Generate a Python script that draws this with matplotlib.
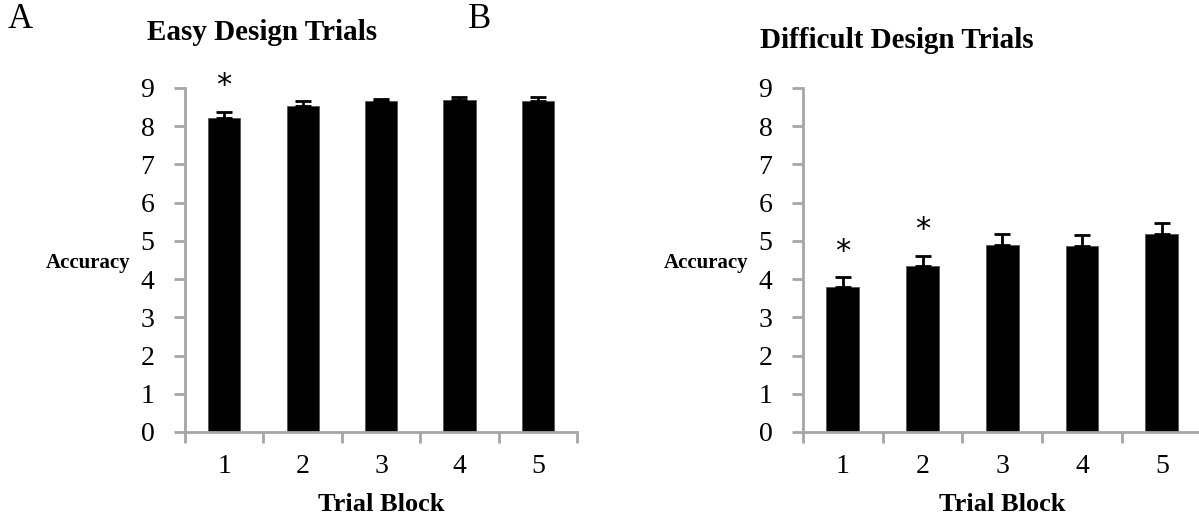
import matplotlib
matplotlib.use("Agg")
import matplotlib.pyplot as plt
import numpy as np

plt.rcParams['font.family'] = ['Liberation Serif', 'DejaVu Serif']

blocks = ["1", "2", "3", "4", "5"]
easy_mean = [8.22, 8.53, 8.66, 8.68, 8.66]
easy_err = [0.16, 0.13, 0.04, 0.08, 0.10]
easy_sig = [True, False, False, False, False]
hard_mean = [3.78, 4.34, 4.90, 4.86, 5.17]
hard_err = [0.27, 0.27, 0.27, 0.29, 0.30]
hard_sig = [True, True, False, False, False]

AXIS_GRAY = "#a6a6a6"


def draw_panel(ax, means, errs, sig, title, title_x, title_y):
    x = np.arange(len(blocks))
    ax.bar(x, means, width=0.41, color="black", edgecolor="#555555",
           linewidth=0.6, zorder=2)
    ax.errorbar(x, means, yerr=[np.zeros(len(errs)), errs], fmt="none",
                ecolor="black", elinewidth=2, capsize=6, capthick=2, zorder=3)
    for xi, m, e, s in zip(x, means, errs, sig):
        if s:
            ax.text(xi, m + e + 0.3, "*", ha="center", va="bottom",
                    fontsize=22, family="DejaVu Sans")

    ax.set_xlim(-0.5, len(blocks) - 0.5)
    ax.set_ylim(0, 9)
    ax.set_yticks(range(0, 10))
    ax.set_xticks(x)
    ax.set_xticklabels(blocks)
    ax.set_xticks(np.arange(-0.5, len(blocks)), minor=True)
    ax.tick_params(axis="x", which="major", length=0, pad=16, labelsize=20)
    ax.tick_params(axis="x", which="minor", length=8, width=2,
                   color=AXIS_GRAY, direction="out")
    ax.tick_params(axis="y", length=8, width=2, color=AXIS_GRAY,
                   direction="out", pad=14, labelsize=20)
    for side in ("top", "right"):
        ax.spines[side].set_visible(False)
    for side in ("left", "bottom"):
        ax.spines[side].set_color(AXIS_GRAY)
        ax.spines[side].set_linewidth(2)
    ax.spines["bottom"].set_zorder(4)

    ax.set_xlabel("Trial Block", fontsize=19, fontweight="bold", va="center")
    ax.xaxis.set_label_coords(0.5, -0.212)
    ax.set_ylabel("Accuracy", fontsize=15, fontweight="bold", rotation=0,
                  ha="right", va="center")
    ax.yaxis.set_label_coords(-0.138, 0.491)
    ax.text(title_x, title_y, title, transform=ax.figure.transFigure,
            fontsize=21, fontweight="bold", ha="center", va="center")


fig = plt.figure(figsize=(11.99, 5.23), dpi=100)
ax1 = fig.add_axes([0.1543, 0.174, 0.327, 0.658])
ax2 = fig.add_axes([0.6697, 0.174, 0.3325, 0.658])

draw_panel(ax1, easy_mean, easy_err, easy_sig, "Easy Design Trials",
           262 / 1199, 1 - 33 / 523)
draw_panel(ax2, hard_mean, hard_err, hard_sig, "Difficult Design Trials",
           897 / 1199, 1 - 40 / 523)

fig.text(0.006, 1 - 20 / 523, "A", fontsize=25, va="center")
fig.text(0.39, 1 - 20 / 523, "B", fontsize=25, va="center")

fig.savefig("out.png", dpi=100)
